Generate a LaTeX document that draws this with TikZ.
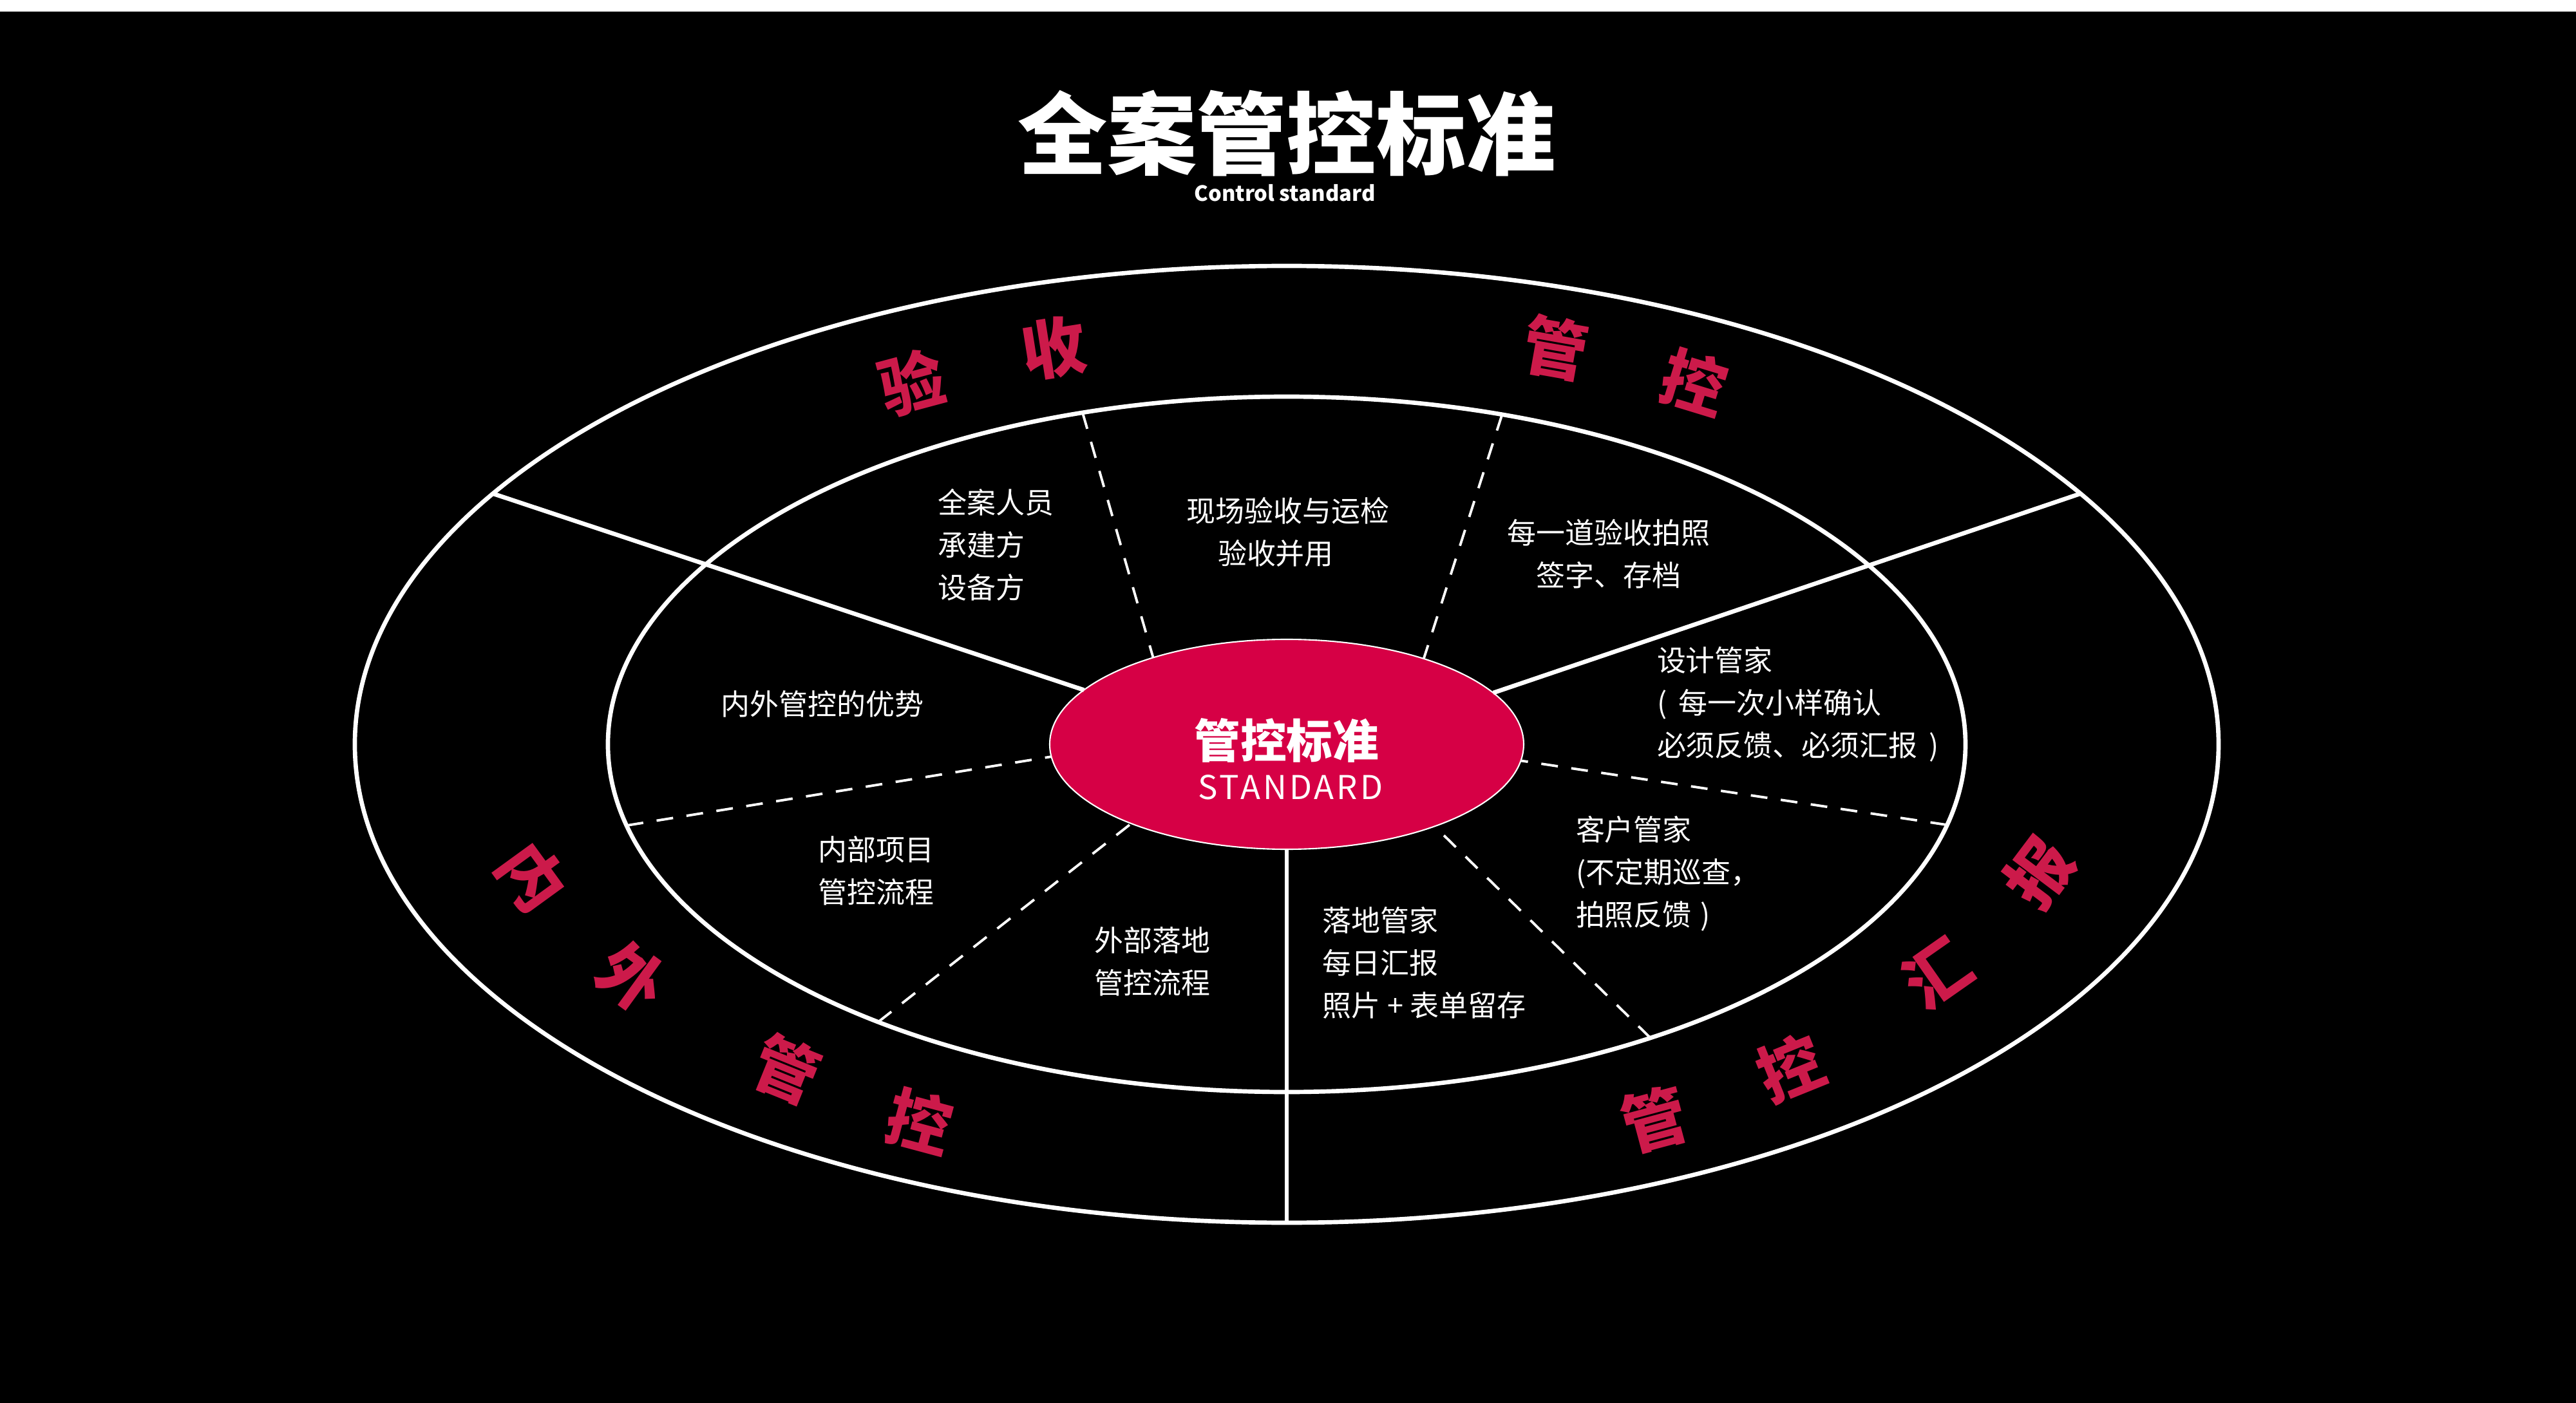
\documentclass[tikz,border=0pt]{standalone}
\usepackage{fontspec}
\usepackage{tikz}
\usetikzlibrary{shapes.geometric}
\newfontfamily\cjk{Noto Sans CJK SC}
\definecolor{hubred}{HTML}{D60045}
\definecolor{ringred}{HTML}{CC1A4A}

\begin{document}
\begin{tikzpicture}[inner sep=0mm,outer sep=0mm,
  ring/.style={draw=white,line width=1.9pt},
  split/.style={draw=white,line width=1.1pt,dash pattern=on 2.6mm off 2.1mm},
  note/.style={white,font=\cjk\fontsize{12.8}{18.8}\selectfont},
  ringword/.style={ringred,font=\cjk\bfseries\fontsize{28.5}{28.5}\selectfont}]
\useasboundingbox (-19.98,-10.23) rectangle (20.02,11.56);
\fill[black] (-19.98,-10.23) rectangle (20.02,11.38);
\fill[white] (-19.98,11.38) rectangle (20.02,11.56);

% heading
\node at (0,9.49) [white,font=\cjk\bfseries\fontsize{39.6}{40}\selectfont] (Title) {全案管控标准};
\node at (-0.03,8.56) [white,font=\cjk\bfseries\fontsize{9.3}{10}\selectfont] (Subtitle) {Control standard};

% rings
\draw[ring] (0,0) ellipse [x radius=14.47,y radius=7.43];
\draw[ring] (0,0) ellipse [x radius=10.54,y radius=5.40];
\node at (0,0) [ellipse,fill=hubred,draw=white,line width=0.6pt,minimum width=7.36cm,minimum height=3.26cm] (Hub) {};
\node at (0,0.06) [white,font=\cjk\bfseries\fontsize{20.4}{22}\selectfont] (HubTitle) {管控标准};
\node at (0.06,-0.67) [white,font=\cjk\fontsize{14.5}{16}\selectfont\addfontfeature{LetterSpace=8}] (HubSub) {STANDARD};

% end points on the rings
\coordinate (OutUL) at (148.4:14.47 and 7.43);
\coordinate (OutUR) at (31.6:14.47 and 7.43);
\coordinate (OutB) at (270:14.47 and 7.43);
\coordinate (MidUL) at (107.5:10.54 and 5.40);
\coordinate (MidUR) at (71.5:10.54 and 5.40);
\coordinate (MidL) at (193.5:10.54 and 5.40);
\coordinate (MidR) at (346.6:10.54 and 5.40);
\coordinate (MidLL) at (233:10.54 and 5.40);
\coordinate (MidLR) at (302.4:10.54 and 5.40);

\draw[ring] (OutUL) -- (Hub.165.4);
\draw[ring] (OutUR) -- (Hub.14.8);
\draw[ring] (OutB) -- (Hub.270);
\draw[split] (MidUL) -- (Hub.147.5);
\draw[split] (MidUR) -- (Hub.32.9);
\draw[split] (MidL) -- (Hub.183.4);
\draw[split] (MidR) -- (Hub.356.6);
\draw[split] (MidLL) -- (Hub.207);
\draw[split] (MidLR) -- (Hub.331.7);

% inner texts
\node at (-5.41,3.10) [note,anchor=west,align=left] (Staff) {全案人员\\承建方\\设备方};
\node at (0.02,3.30) [note,align=center] (Onsite) {现场验收与运检\\验收并用\hspace*{0.38cm}};
\node at (5.00,2.96) [note,align=center] (Photo) {每一道验收拍照\\签字、存档};
\node at (5.75,0.62) [note,anchor=west,align=left] (Design) {设计管家\\(\hspace{0.4em}每一次小样确认\\必须反馈、必须汇报\hspace{0.4em})};
\node at (4.49,-2.01) [note,anchor=west,align=left] (Client) {客户管家\\(不定期巡查，\\拍照反馈\hspace{0.3em})};
\node at (0.56,-3.39) [note,anchor=west,align=left] (Site) {落地管家\\每日汇报\\照片 + 表单留存};
\node at (-2.98,-3.37) [note,anchor=west,align=left] (Outer) {外部落地\\管控流程};
\node at (-7.27,-1.96) [note,anchor=west,align=left] (Inner) {内部项目\\管控流程};
\node at (-8.78,0.63) [note,anchor=west] (Merit) {内外管控的优势};

% red words on the outer band
\node at (-5.82,5.62) [ringword,rotate=15] (Yan) {验};
\node at (-3.62,6.16) [ringword,rotate=9] (Shou) {收};
\node at (4.18,6.16) [ringword,rotate=-10] (GuanT) {管};
\node at (6.33,5.62) [ringword,rotate=-17] (KongT) {控};
\node at (-11.71,-2.06) [ringword,rotate=-54] (Nei) {内};
\node at (-10.17,-3.62) [ringword,rotate=-36] (Wai) {外};
\node at (-7.77,-5.05) [ringword,rotate=-22] (GuanL) {管};
\node at (-5.70,-5.85) [ringword,rotate=-15] (KongL) {控};
\node at (5.71,-5.82) [ringword,rotate=15] (GuanR) {管};
\node at (7.82,-5.02) [ringword,rotate=22] (KongR) {控};
\node at (10.10,-3.56) [ringword,rotate=35] (Hui) {汇};
\node at (11.68,-1.99) [ringword,rotate=53] (Bao) {报};

\end{tikzpicture}
\end{document}
